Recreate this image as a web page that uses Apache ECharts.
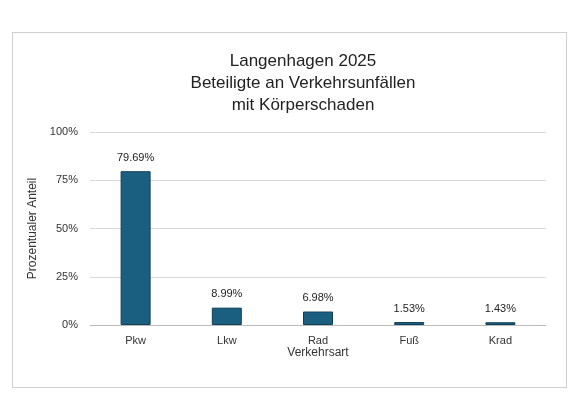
<!DOCTYPE html>
<html>
<head>
<meta charset="utf-8">
<script src="https://cdn.jsdelivr.net/npm/echarts@6/dist/echarts.min.js"></script>
<style>
  html, body { margin: 0; padding: 0; background: #fff; }
  #frame { position: absolute; left: 12px; top: 32px; width: 553px; height: 354px; border: 1px solid #d0d0d0; }
  #chart { position: absolute; left: 0; top: 0; width: 576px; height: 417px; }
</style>
</head>
<body>
<div id="frame"></div>
<div id="chart"></div>
<script>
// Verkehrsart und Anteil in Prozent
var categories = ['Pkw', 'Lkw', 'Rad', 'Fuß', 'Krad'];
var anteil = [79.69, 8.99, 6.98, 1.53, 1.43];

var chart = echarts.init(document.getElementById('chart'));
var font = 'Liberation Sans, Arial, sans-serif';
chart.setOption({
  animation: false,
  title: {
    text: 'Langenhagen 2025\nBeteiligte an Verkehrsunfällen\nmit Körperschaden',
    left: 298, top: 45, textAlign: 'center',
    textStyle: { fontFamily: font, fontSize: 17, fontWeight: 'normal', color: '#222', lineHeight: 22 }
  },
  grid: { left: 90, right: 30, top: 132, bottom: 92 },
  xAxis: {
    type: 'category', data: categories,
    name: 'Verkehrsart', nameLocation: 'middle', nameGap: 22,
    nameTextStyle: { fontFamily: font, fontSize: 12, color: '#333' },
    axisLine: { lineStyle: { color: '#bbb' } },
    axisTick: { show: false },
    axisLabel: { fontFamily: font, fontSize: 11, color: '#333', margin: 10 }
  },
  yAxis: {
    type: 'value', min: 0, max: 100, interval: 25,
    name: 'Prozentualer Anteil', nameLocation: 'middle', nameGap: 48,
    nameTextStyle: { fontFamily: font, fontSize: 12, color: '#333' },
    axisLabel: { formatter: '{value}%', fontFamily: font, fontSize: 11, color: '#333', margin: 12 },
    splitLine: { lineStyle: { color: '#d9d9d9' } },
    axisLine: { show: false }, axisTick: { show: false }
  },
  series: [{
    type: 'bar', data: anteil, barWidth: 30,
    itemStyle: { color: '#1b5f80', borderColor: '#123f58', borderWidth: 1 },
    label: {
      show: true, position: 'top', distance: 8,
      formatter: function (p) { return p.value.toFixed(2) + '%'; },
      fontFamily: font, fontSize: 11, color: '#222'
    }
  }]
});
</script>
</body>
</html>
